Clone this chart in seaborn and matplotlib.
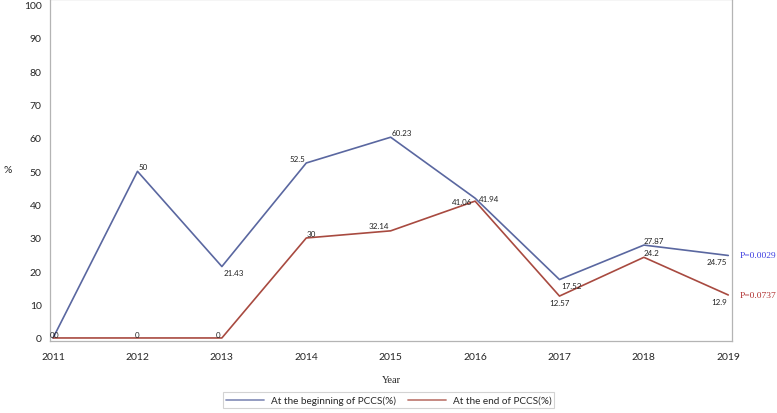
import matplotlib.pyplot as plt
import pandas as pd
import seaborn as sns

# Data
years = [2011, 2012, 2013, 2014, 2015, 2016, 2017, 2018, 2019]
begin_vals = [0, 50, 21.43, 52.5, 60.23, 41.94, 17.52, 27.87, 24.75]
end_vals = [0, 0, 0, 30, 32.14, 41.06, 12.57, 24.2, 12.9]
begin_name = 'At the beginning of PCCS(%)'
end_name = 'At the end of PCCS(%)'
p_begin = 'P=0.0029'
p_end = 'P=0.0737'

df = pd.DataFrame({
    'year': years * 2,
    'value': begin_vals + end_vals,
    'group': [begin_name] * len(years) + [end_name] * len(years),
})

sns.set_theme(style='white')
plt.rcParams['font.family'] = ['Lato', 'DejaVu Sans']

blue = '#5a67a0'
red = '#a84a40'

fig = plt.figure(figsize=(7.77, 4.14), dpi=100)
ax = fig.add_axes([0.0644, 0.174, 0.878, 0.826])

sns.lineplot(data=df, x='year', y='value', hue='group', palette=[blue, red],
             linewidth=1.2, ax=ax, legend=False)

ax.set_xlim(2011 - 0.036, 2019 + 0.047)
ax.set_ylim(-0.9, 101.7)
ax.set_xticks(years)
ax.set_yticks(range(0, 101, 10))
ax.tick_params(axis='both', labelsize=7.5, length=4, width=0.8,
               color='#a0a0a0', direction='out', pad=2)
ax.tick_params(axis='x', pad=4)
for s in ax.spines.values():
    s.set_color('#b4b4b4')
    s.set_linewidth(0.9)
ax.set_xlabel('Year', family='Liberation Serif', fontsize=7.5, labelpad=10)
ax.set_ylabel('%', fontsize=7.5, rotation=0, ha='left', va='center')
ax.yaxis.set_label_coords(-0.068, 0.5)

# label offsets (points)
begin_off = [(0.8, 0, 'right', 'bottom'), (1, 1, 'left', 'bottom'), (1, -2, 'left', 'top'),
             (-1, 1, 'right', 'bottom'), (1, 1, 'left', 'bottom'), (3, 0, 'left', 'center'),
             (1, -2, 'left', 'top'), (0, 1, 'left', 'bottom'), (-1, -2, 'right', 'top')]
end_off = [(0.8, 0, 'left', 'bottom'), (0, 0, 'center', 'bottom'), (-1, 0, 'right', 'bottom'),
           (0, 1, 'left', 'bottom'), (-1, 1, 'right', 'bottom'), (-2, 0, 'right', 'center'),
           (0, -2, 'center', 'top'), (0, 1, 'left', 'bottom'), (-1, -2, 'right', 'top')]

for vals, offs in [(begin_vals, begin_off), (end_vals, end_off)]:
    for x, y, (dx, dy, ha, va) in zip(years, vals, offs):
        ax.annotate(f'{y:g}', (x, y), xytext=(dx, dy), textcoords='offset points',
                    ha=ha, va=va, fontsize=5.8, color='#222222')

ax.annotate(p_begin, (years[-1], begin_vals[-1]), xytext=(8, 0),
            textcoords='offset points', ha='left', va='center',
            family='Liberation Serif', fontsize=6.8, color='#3b3be0',
            annotation_clip=False)
ax.annotate(p_end, (years[-1], end_vals[-1]), xytext=(8, 0),
            textcoords='offset points', ha='left', va='center',
            family='Liberation Serif', fontsize=6.8, color='#b03030',
            annotation_clip=False)

handles = [plt.Line2D([], [], color=c, lw=1.3, alpha=0.7) for c in (blue, red)]
leg = fig.legend(handles, [begin_name, end_name], loc='lower center',
                 bbox_to_anchor=(0.5, 0.0), ncol=2, fontsize=7.2, frameon=True,
                 fancybox=False, handlelength=3.8, columnspacing=1.2,
                 borderpad=0.3, handletextpad=0.7)
leg.get_frame().set_edgecolor('#c8c8c8')
leg.get_frame().set_linewidth(0.8)

fig.savefig('out.png', dpi=100)
